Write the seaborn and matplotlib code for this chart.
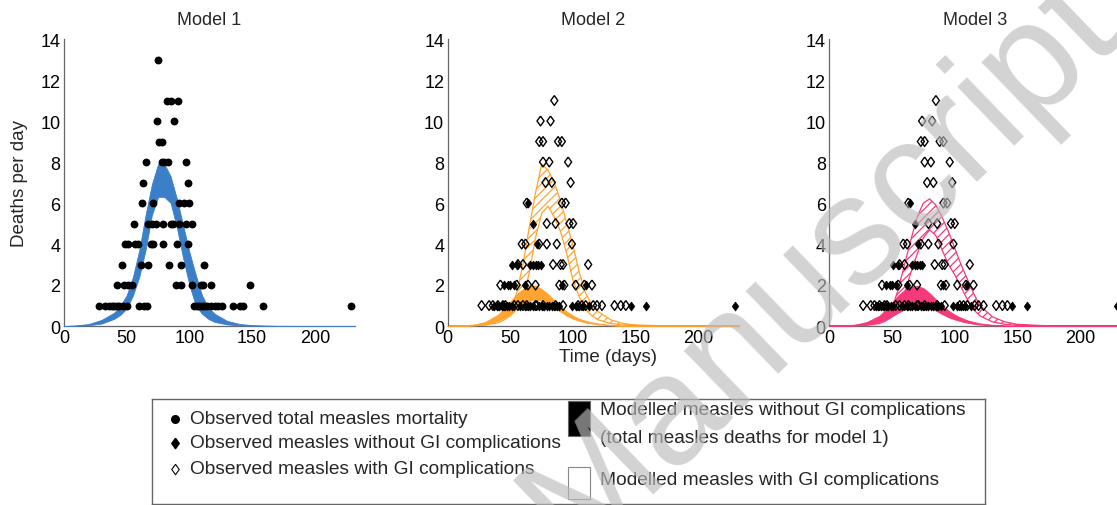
import matplotlib
matplotlib.use("Agg")
import matplotlib.pyplot as plt
from matplotlib.patches import Rectangle
import pandas as pd
import seaborn as sns

sns.set_style("white")
plt.rcParams["font.family"] = ["Liberation Sans", "DejaVu Sans"]
plt.rcParams["hatch.linewidth"] = 0.9

# ------------------ Dados ------------------ #

model_titles = ["Model 1", "Model 2", "Model 3"]
x_ticks = [0, 50, 100, 150, 200]
y_ticks = [0, 2, 4, 6, 8, 10, 12, 14]

# observed deaths: {deaths per day: [days]}
obs_total = {
    13: [75],
    11: [82, 85, 91],
    10: [74, 88],
    9: [76, 78],
    8: [65, 78, 80, 83, 97],
    7: [63, 99],
    6: [62, 71, 92, 96, 100],
    5: [56, 67, 70, 73, 79, 85, 87, 92, 97, 102],
    4: [49, 51, 57, 59, 69, 71, 79, 90, 99],
    3: [46, 61, 67, 84, 93, 112],
    2: [42, 48, 51, 54, 89, 93, 102, 109, 111, 117, 148],
    1: [28, 33, 36, 38, 40, 42, 44, 47, 50, 60, 64, 66, 104, 106, 108, 110,
        112, 114, 117, 120, 123, 126, 135, 140, 143, 159, 229],
}
obs_no_gi = {
    6: [64],
    5: [68],
    4: [71],
    3: [51, 55, 66, 68, 70, 72, 74],
    2: [45, 48, 50, 53, 62, 91, 110],
    1: [37, 39, 41, 43, 45, 47, 49, 51, 58, 62, 64, 66, 68, 73, 75, 77, 79,
        81, 83, 85, 87, 89, 99, 102, 105, 108, 113, 146, 158, 229],
}
obs_gi = {
    11: [85],
    10: [74, 82],
    9: [73, 76, 88, 91],
    8: [76, 81, 96],
    7: [78, 83, 98],
    6: [63, 91, 94],
    5: [79, 86, 97, 100],
    4: [59, 62, 73, 79, 87, 99],
    3: [56, 60, 84, 90, 92, 112],
    2: [42, 55, 64, 70, 89, 93, 102, 109, 115],
    1: [27, 33, 36, 40, 44, 46, 53, 56, 60, 63, 70, 71, 76, 86, 92, 104, 107,
        110, 116, 119, 123, 133, 138, 142],
}

# modelled bands (lower / upper envelope) on a common day grid
days = [0, 10, 20, 30, 40, 45, 50, 55, 60, 65, 70, 75, 80, 85, 90, 95, 100,
        105, 110, 115, 120, 130, 140, 150, 170, 200, 232]

m1_lo = [0, 0.01, 0.04, 0.12, 0.35, 0.55, 0.85, 1.5, 2.4, 3.7, 5.4, 6.3, 6.3,
         6.0, 4.8, 3.3, 2.0, 1.0, 0.6, 0.35, 0.2, 0.08, 0.03, 0.01, 0, 0, 0]
m1_hi = [0, 0.03, 0.1, 0.3, 0.65, 1.0, 1.5, 2.4, 3.7, 5.4, 6.9, 7.9, 7.9,
         7.3, 6.2, 4.9, 3.6, 2.5, 1.5, 0.9, 0.6, 0.25, 0.1, 0.04, 0.01, 0, 0]

m2_ng_lo = [0, 0, 0.02, 0.08, 0.25, 0.4, 0.6, 0.85, 1.05, 1.22, 1.3, 1.25, 1.1,
            0.9, 0.7, 0.5, 0.35, 0.25, 0.17, 0.12, 0.08, 0.03, 0.01, 0, 0, 0, 0]
m2_ng_hi = [0, 0.01, 0.05, 0.2, 0.55, 0.85, 1.2, 1.55, 1.8, 1.97, 1.97, 1.8,
            1.55, 1.25, 0.95, 0.7, 0.5, 0.35, 0.25, 0.18, 0.12, 0.05, 0.02,
            0.01, 0, 0, 0]
m2_gi_lo = [0, 0, 0.01, 0.05, 0.15, 0.3, 0.5, 0.8, 1.3, 2.6, 4.3, 5.5, 5.85,
            5.3, 4.6, 3.5, 2.2, 1.4, 0.8, 0.5, 0.3, 0.12, 0.05, 0.02, 0, 0, 0]
m2_gi_hi = [0, 0, 0.03, 0.1, 0.3, 0.5, 0.85, 1.6, 3.0, 4.8, 6.5, 7.9, 7.6,
            7.0, 6.1, 5.0, 3.9, 2.6, 1.6, 1.0, 0.7, 0.3, 0.12, 0.05, 0.01, 0, 0]

m3_ng_lo = [0, 0, 0.02, 0.07, 0.2, 0.32, 0.48, 0.65, 0.82, 0.95, 1.0, 0.97,
            0.88, 0.75, 0.58, 0.43, 0.32, 0.23, 0.16, 0.11, 0.07, 0.03, 0.01,
            0, 0, 0, 0]
m3_ng_hi = [0, 0.01, 0.05, 0.2, 0.5, 0.8, 1.15, 1.5, 1.75, 1.92, 1.95, 1.85,
            1.6, 1.3, 1.0, 0.75, 0.55, 0.4, 0.28, 0.2, 0.13, 0.06, 0.03, 0.01,
            0, 0, 0]
m3_gi_lo = [0, 0, 0.01, 0.04, 0.12, 0.25, 0.45, 0.8, 1.6, 2.6, 3.5, 4.3, 4.7,
            4.4, 3.7, 3.0, 2.5, 1.9, 1.3, 0.8, 0.5, 0.2, 0.08, 0.03, 0, 0, 0]
m3_gi_hi = [0, 0, 0.03, 0.1, 0.3, 0.5, 0.85, 1.8, 3.0, 4.2, 5.3, 6.0, 6.2,
            5.9, 5.3, 4.6, 3.8, 3.0, 2.3, 1.6, 1.0, 0.45, 0.2, 0.08, 0.02, 0, 0]

BLUE = "#3a7fc8"
ORANGE = "#ffa431"
PINK = "#f7387b"

# losango um pouco mais largo que o "d" do matplotlib (estilo MATLAB)
DIAMANTE = [(0, 1), (0.72, 0), (0, -1), (-0.72, 0), (0, 1)]


def para_df(pontos):
    linhas = [(d, n) for n, ds in pontos.items() for d in ds]
    return pd.DataFrame(linhas, columns=["day", "deaths"])


df_total = para_df(obs_total)
df_no_gi = para_df(obs_no_gi)
df_gi = para_df(obs_gi)

# ------------------ Figura ------------------ #

W, H = 1117, 506
fig = plt.figure(figsize=(W / 100, H / 100), dpi=100)

lefts = [64, 447.7, 829.3]
axes = [fig.add_axes([l / W, 1 - 327 / H, 291 / W, 287 / H]) for l in lefts]


def estilo(ax, titulo):
    ax.set_xlim(0, 232)
    ax.set_ylim(0, 14)
    ax.set_xticks(x_ticks)
    ax.set_yticks(y_ticks)
    for lado in ["top", "right"]:
        ax.spines[lado].set_visible(False)
    for lado in ["left", "bottom"]:
        ax.spines[lado].set_color("#666666")
        ax.spines[lado].set_linewidth(0.9)
    ax.tick_params(direction="in", length=3, width=0.8, colors="#666666",
                   labelcolor="black", labelsize=13, pad=2.5)
    ax.set_title(titulo, fontsize=13, pad=11)
    ax.set_xlabel("")
    ax.set_ylabel("")


def banda_hachurada(ax, lo, hi, cor):
    ax.fill_between(days, lo, hi, facecolor="white", edgecolor=cor,
                    hatch="////", linewidth=0.9, zorder=2)


def banda_solida(ax, lo, hi, cor):
    ax.fill_between(days, lo, hi, facecolor=cor, edgecolor=cor,
                    linewidth=0.6, zorder=3)


# Model 1
ax = axes[0]
banda_solida(ax, m1_lo, m1_hi, BLUE)
sns.scatterplot(data=df_total, x="day", y="deaths", marker="o", color="black",
                s=32, linewidth=0, ax=ax, zorder=5)
estilo(ax, model_titles[0])
ax.set_ylabel("Deaths per day", fontsize=13.5, labelpad=9)

# Models 2 and 3
bandas = [(m2_gi_lo, m2_gi_hi, m2_ng_lo, m2_ng_hi, ORANGE),
          (m3_gi_lo, m3_gi_hi, m3_ng_lo, m3_ng_hi, PINK)]
for ax, (gi_lo, gi_hi, ng_lo, ng_hi, cor), titulo in zip(axes[1:], bandas, model_titles[1:]):
    banda_hachurada(ax, gi_lo, gi_hi, cor)
    banda_solida(ax, ng_lo, ng_hi, cor)
    sns.scatterplot(data=df_gi, x="day", y="deaths", marker=DIAMANTE, s=50,
                    facecolor="none", edgecolor="black", linewidth=1.0,
                    ax=ax, zorder=5)
    sns.scatterplot(data=df_no_gi, x="day", y="deaths", marker=DIAMANTE, s=42,
                    color="black", edgecolor="black", linewidth=0.5,
                    ax=ax, zorder=6)
    estilo(ax, titulo)

fig.text(608 / W, 1 - 357 / H, "Time (days)", ha="center", va="center",
         fontsize=13.5)

# ------------------ Legenda ------------------ #
leg = fig.add_axes([152 / W, 1 - 505 / H, 833 / W, 105 / H])
leg.set_xlim(0, 833)
leg.set_ylim(105, 0)
leg.set_xticks([])
leg.set_yticks([])
for s in leg.spines.values():
    s.set_color("#666666")
    s.set_linewidth(1.0)

leg.plot(23, 20, "o", color="black", ms=5.5)
leg.plot(23, 44, marker=DIAMANTE, color="black", ms=7.5, ls="none")
leg.plot(23, 70, marker=DIAMANTE, mfc="none", mec="black", mew=0.8, ms=7.5, ls="none")
col1 = ["Observed total measles mortality",
        "Observed measles without GI complications",
        "Observed measles with GI complications"]
for y, txt in zip([20, 44, 70], col1):
    leg.text(38, y, txt, va="center", ha="left", fontsize=13.8)

leg.add_patch(Rectangle((416, 2), 22, 35, facecolor="black", edgecolor="#666666", lw=0.8))
leg.add_patch(Rectangle((416, 68), 22, 32, facecolor="white", edgecolor="#888888", lw=0.8))
leg.text(448, 11, "Modelled measles without GI complications", va="center",
         ha="left", fontsize=13.8)
leg.text(448, 39, "(total measles deaths for model 1)", va="center",
         ha="left", fontsize=13.8)
leg.text(448, 81, "Modelled measles with GI complications", va="center",
         ha="left", fontsize=13.8)

# marca d'água
fig.text(820 / W, 1 - 265 / H, "Manuscript", rotation=44, ha="center",
         va="center", fontsize=112, color="#bbbbbb", alpha=0.65, zorder=100)

fig.savefig("out.png", dpi=100)
